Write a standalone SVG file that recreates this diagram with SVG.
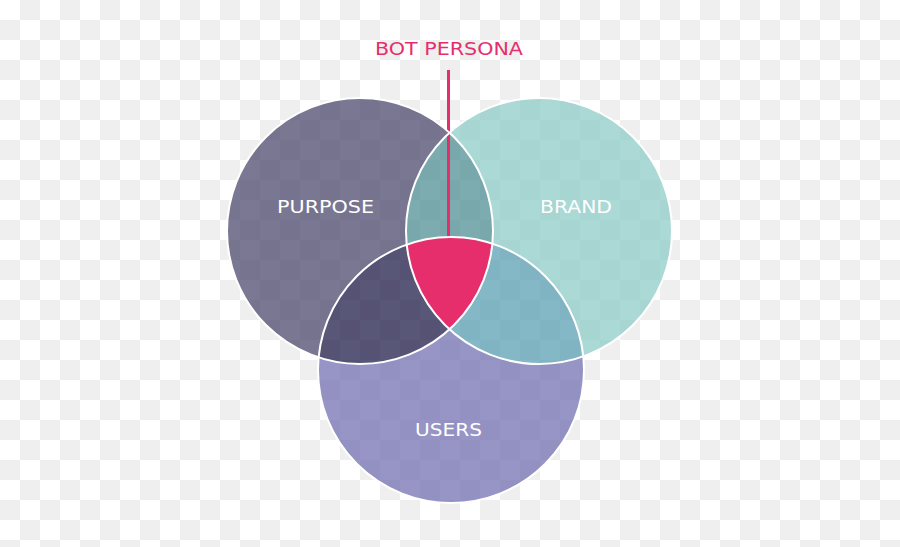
<svg xmlns="http://www.w3.org/2000/svg" width="900" height="547" viewBox="0 0 900 547">
  <style>
    .lbl { font-family: "DejaVu Sans", "Liberation Sans", sans-serif; font-size: 18px; font-weight: normal; fill: #ffffff; text-anchor: middle; }
    .title { font-family: "DejaVu Sans", "Liberation Sans", sans-serif; font-size: 18px; font-weight: normal; fill: #e62e6c; text-anchor: middle; }
    .edge { fill: none; stroke: #ffffff; stroke-width: 2; }
  </style>
  <defs>
    <pattern id="checker" x="0" y="0" width="40" height="40" patternUnits="userSpaceOnUse">
      <rect width="40" height="40" fill="#ffffff"/>
      <rect x="20" y="0" width="20" height="20" fill="#efefef"/>
      <rect x="0" y="20" width="20" height="20" fill="#efefef"/>
    </pattern>
    <circle id="cP" cx="360" cy="231" r="133"/>
    <circle id="cB" cx="539" cy="231" r="133"/>
    <circle id="cU" cx="451" cy="370" r="133"/>
    <clipPath id="clipP"><use href="#cP"/></clipPath>
    <clipPath id="clipB"><use href="#cB"/></clipPath>
    <clipPath id="clipU"><use href="#cU"/></clipPath>
  </defs>

  <rect width="900" height="547" fill="url(#checker)"/>

  <g id="regions" opacity="0.72">
    <g id="node-purpose-fill"><use href="#cP" fill="#48446a"/></g>
    <g id="node-brand-fill"><use href="#cB" fill="#8cccc7"/></g>
    <g id="node-users-fill"><use href="#cU" fill="#706db0"/></g>
    <g clip-path="url(#clipP)"><use href="#cB" fill="#4c8d93"/></g>
    <g clip-path="url(#clipP)"><use href="#cU" fill="#1a1745"/></g>
    <g clip-path="url(#clipB)"><use href="#cU" fill="#579eb1"/></g>
  </g>

  <g id="node-persona-region" clip-path="url(#clipP)">
    <g clip-path="url(#clipB)"><use href="#cU" fill="#e62e6c"/></g>
  </g>

  <g id="connectors">
    <line x1="448.5" y1="70" x2="448.5" y2="238" stroke="#e62e6c" stroke-width="3"/>
  </g>

  <g id="outlines">
    <use href="#cP" class="edge"/>
    <use href="#cB" class="edge"/>
    <use href="#cU" class="edge"/>
  </g>

  <g id="node-purpose"><text class="lbl" x="325.5" y="212.5" textLength="97" lengthAdjust="spacingAndGlyphs">PURPOSE</text></g>
  <g id="node-brand"><text class="lbl" x="576" y="212.5" textLength="72" lengthAdjust="spacingAndGlyphs">BRAND</text></g>
  <g id="node-users"><text class="lbl" x="448.5" y="436" textLength="67" lengthAdjust="spacingAndGlyphs">USERS</text></g>
  <g id="node-persona"><text class="title" x="449" y="55" textLength="148" lengthAdjust="spacingAndGlyphs">BOT PERSONA</text></g>
</svg>
